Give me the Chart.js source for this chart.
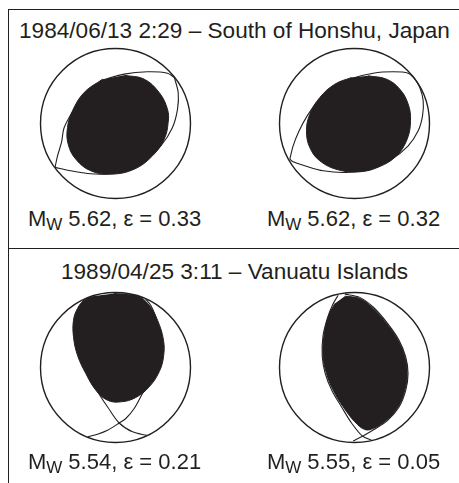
<!DOCTYPE html>
<html>
<head>
<meta charset="utf-8">
<script src="https://cdn.jsdelivr.net/npm/chart.js@4.4.1/dist/chart.umd.min.js"></script>
<style>
  html, body { margin: 0; padding: 0; background: #fff; }
  #figure { position: relative; width: 459px; height: 483px; overflow: hidden;
            font-family: "Liberation Sans", Arial, sans-serif; color: #231f20; }
  .rule { position: absolute; background: #231f20; }
  .txt { position: absolute; font-size: 22px; line-height: 22px; white-space: nowrap; transform: translateX(-50%); }
  .txt.title { font-size: 22.6px; }
  .txt sub { font-size: 17px; vertical-align: -4px; line-height: 0; }
  canvas { position: absolute; }
</style>
</head>
<body>
<div id="figure">
  <div class="rule" style="left:8px; top:9px; width:1.4px; height:474px"></div>
  <div class="rule" style="left:8px; top:9px; width:451px; height:1.4px"></div>
  <div class="rule" style="left:8px; top:248px; width:451px; height:1.4px"></div>
</div>
<script>
// events, one per row
const events = ['1984/06/13 2:29 – South of Honshu, Japan', '1989/04/25 3:11 – Vanuatu Islands'];
const magnitudes = [5.62, 5.62, 5.54, 5.55];
const epsilons = [0.33, 0.32, 0.21, 0.05];

// compressional area outlines and nodal planes, unit focal sphere projection [x, y]
const honshuFillA = [[0.116,0.644],[0.382,0.591],[0.582,0.413],[0.693,0.191],[0.702,0.013],[0.649,-0.209],[0.493,-0.431],[0.249,-0.609],[-0.062,-0.676],[-0.329,-0.631],[-0.529,-0.476],[-0.631,-0.276],[-0.640,-0.053],[-0.573,0.169],[-0.418,0.413],[-0.173,0.591]];
const honshuPlanesA = [
  [[-0.806,-0.585],[-0.773,-0.431],[-0.72,-0.253],[-0.684,-0.053],[-0.551,0.191],[-0.373,0.436],[-0.151,0.578],[0.116,0.658],[0.427,0.689],[0.693,0.671],[0.785,0.612]],
  [[0.785,0.612],[0.836,0.413],[0.827,0.191],[0.760,-0.053],[0.604,-0.298],[0.382,-0.498],[0.116,-0.631],[-0.151,-0.676],[-0.373,-0.667],[-0.596,-0.631],[-0.806,-0.585]]
];
const honshuFillB = [[0.182,0.636],[0.427,0.591],[0.604,0.458],[0.716,0.258],[0.747,0.036],[0.702,-0.209],[0.560,-0.431],[0.338,-0.573],[0.071,-0.644],[-0.218,-0.618],[-0.462,-0.498],[-0.596,-0.320],[-0.640,-0.098],[-0.596,0.124],[-0.462,0.347],[-0.262,0.524],[-0.040,0.613]];
const honshuPlanesB = [
  [[-0.862,-0.476],[-0.818,-0.298],[-0.738,-0.098],[-0.631,0.102],[-0.484,0.302],[-0.284,0.480],[-0.040,0.600],[0.249,0.671],[0.516,0.689],[0.716,0.671],[0.800,0.600]],
  [[0.800,0.600],[0.871,0.480],[0.916,0.302],[0.907,0.102],[0.849,-0.098],[0.716,-0.298],[0.493,-0.476],[0.204,-0.600],[-0.107,-0.653],[-0.418,-0.631],[-0.662,-0.564],[-0.818,-0.511],[-0.862,-0.476]]
];
const vanuatuFillA = [[-0.018,0.987],[0.29,0.955],[0.449,0.831],[0.560,0.631],[0.640,0.364],[0.640,0.142],[0.582,-0.058],[0.449,-0.258],[0.271,-0.400],[0.071,-0.458],[-0.107,-0.436],[-0.262,-0.302],[-0.396,-0.080],[-0.507,0.164],[-0.560,0.409],[-0.560,0.631],[-0.507,0.787],[-0.418,0.898],[-0.307,0.951]];
const vanuatuPlanesA = [
  [[-0.42,0.905],[-0.47,0.78],[-0.50,0.60],[-0.50,0.40],[-0.46,0.18],[-0.38,-0.05],[-0.28,-0.25],[-0.19,-0.40],[-0.107,-0.524],[0.049,-0.74],[0.227,-0.858],[0.415,-0.905]],
  [[0.40,0.915],[0.47,0.83],[0.53,0.69],[0.58,0.50],[0.60,0.30],[0.57,0.10],[0.50,-0.10],[0.42,-0.25],[0.36,-0.347],[0.249,-0.547],[0.138,-0.68],[0.049,-0.74],[-0.107,-0.836],[-0.24,-0.889],[-0.37,-0.925]]
];
const vanuatuFillB = [[-0.129,0.951],[0.071,0.92],[0.249,0.787],[0.427,0.587],[0.582,0.364],[0.671,0.142],[0.702,-0.08],[0.671,-0.302],[0.582,-0.524],[0.427,-0.702],[0.249,-0.813],[0.138,-0.827],[0.004,-0.724],[-0.151,-0.524],[-0.284,-0.302],[-0.373,-0.08],[-0.418,0.142],[-0.409,0.409],[-0.351,0.676],[-0.262,0.853]];
const vanuatuPlanesB = [
  [[-0.218,0.964],[-0.29,0.84],[-0.36,0.66],[-0.42,0.42],[-0.43,0.15],[-0.39,-0.08],[-0.30,-0.31],[-0.17,-0.53],[-0.04,-0.74],[0.107,-0.916],[0.227,-0.969]],
  [[-0.129,0.978],[0.07,0.935],[0.255,0.80],[0.435,0.595],[0.592,0.368],[0.683,0.142],[0.714,-0.08],[0.683,-0.305],[0.592,-0.53],[0.435,-0.712],[0.255,-0.83],[0.107,-0.916],[-0.018,-0.98]]
];

const ink = '#231f20';
const fills = [honshuFillA, honshuFillB, vanuatuFillA, vanuatuFillB];
const planes = [honshuPlanesA, honshuPlanesB, vanuatuPlanesA, vanuatuPlanesB];

// where each ball and its caption sit on the page
const slots = [
  {left: 33, top: 41, label: 227},
  {left: 272, top: 41, label: 227},
  {left: 33, top: 285, label: 470},
  {left: 272, top: 285, label: 470}
];
const size = 165;
const titleBaselines = [38.5, 280];

const fig = document.getElementById('figure');
const pts = a => a.map(([x, y]) => ({x, y}));

// scatter lines are open by default; mark the outline dataset as a closed loop
// so the spline wraps round smoothly and the fill follows it
const closeLoop = {
  id: 'closeLoop',
  afterDatasetsUpdate(chart) {
    chart.data.datasets.forEach((ds, i) => {
      const meta = chart.getDatasetMeta(i);
      if (ds.closed && meta.dataset) meta.dataset._loop = true;
    });
  }
};

function addText(html, cx, baseline, cls) {
  const el = document.createElement('div');
  el.className = 'txt' + (cls ? ' ' + cls : '');
  el.innerHTML = html;
  el.style.left = cx + 'px';
  el.style.top = (baseline - 18.6) + 'px';
  fig.appendChild(el);
}

function drawBall(canvas, outline, nodal) {
  const planeSets = nodal.map(p => ({
    data: pts(p), showLine: true, borderColor: ink, borderWidth: 1.1,
    pointRadius: 0, tension: 0.3, fill: false
  }));
  new Chart(canvas, {
    type: 'scatter',
    data: {
      datasets: [
        {data: pts(outline), closed: true, showLine: true, fill: 'shape', backgroundColor: ink,
         borderColor: ink, borderWidth: 1, pointRadius: 0, tension: 0.4},
        ...planeSets,
        {data: [{x: 0, y: 0}], pointStyle: 'circle',
         pointRadius: c => c.chart.scales.x.getPixelForValue(1) - c.chart.scales.x.getPixelForValue(0),
         pointBorderWidth: 1.4, pointBorderColor: ink, pointBackgroundColor: 'rgba(0,0,0,0)'}
      ]
    },
    options: {
      responsive: false,
      animation: false,
      events: [],
      layout: {padding: 0, autoPadding: false},
      plugins: {legend: {display: false}, tooltip: {enabled: false}},
      scales: {
        x: {type: 'linear', min: -1.1, max: 1.1, display: false},
        y: {type: 'linear', min: -1.1, max: 1.1, display: false}
      }
    },
    plugins: [closeLoop]
  });
}

events.forEach((t, i) => addText(t, 234.5, titleBaselines[i], 'title'));

slots.forEach((s, i) => {
  const c = document.createElement('canvas');
  c.width = size;
  c.height = size;
  c.style.left = s.left + 'px';
  c.style.top = s.top + 'px';
  fig.appendChild(c);
  drawBall(c, fills[i], planes[i]);
  addText('M<sub>W</sub> ' + magnitudes[i].toFixed(2) + ', ε = ' + epsilons[i].toFixed(2),
          s.left + size / 2 - 1, s.label);
});
</script>
</body>
</html>
